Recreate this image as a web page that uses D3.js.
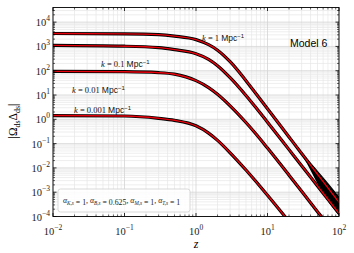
<!DOCTYPE html>
<html><head><meta charset="utf-8">
<script src="https://cdn.jsdelivr.net/npm/d3@7"></script>
<style>body{margin:0;background:#fff}svg{display:block}</style>
</head><body>
<svg id="c" width="354" height="253"></svg>
<script>
// ---- data ----
const zs = [0.01, 0.1, 0.3, 0.5, 1, 1.5, 2, 3, 5, 7, 10, 20, 30, 50, 70, 100];
const k1 = [3400, 3300, 3050, 2650, 1900, 1180, 700, 235, 39, 10.7, 2.7, 0.1875, 0.0394, 0.0055, 0.00151, 0.000381];
const k01 = [1100, 1020, 890, 735, 500, 295, 161, 51.8, 9.57, 2.85, 0.76, 0.0565, 0.01236, 0.001816, 0.000514, 0.000135];
const k001 = [94, 91, 83, 72, 39, 20.3, 10.8, 3.6, 0.74, 0.237, 0.0655, 0.00503, 0.0011, 0.000158, 0.000044, 0.00001];
const k0001 = [1.43, 1.37, 1.1, 0.91, 0.54, 0.271, 0.136, 0.042, 0.0082, 0.00261, 0.00075, 0.000062, 0.000014, 0.000002, 0.0000006, 0.0000002];
const seriesNames = ["k1", "k01", "k001", "k0001"];
const bandZ = [30, 35, 50, 70, 100];
const bandUpper = [0.0394, 0.023, 0.007, 0.0022, 0.0006];
const bandLower = [0.0394, 0.019, 0.0026, 0.00048, 0.00012];
const xTicks = [0.01, 0.1, 1, 10, 100];
const xTickExp = ["-2", "-1", "0", "1", "2"];
const yTicks = [1e-4, 1e-3, 1e-2, 1e-1, 1, 10, 100, 1000, 10000];
const yTickExp = ["-4", "-3", "-2", "-1", "0", "1", "2", "3", "4"];
const labels = [
  {val: "1", x: 202, y: 41},
  {val: "0.1", x: 101, y: 67},
  {val: "0.01", x: 72, y: 93},
  {val: "0.001", x: 74, y: 113}
];

const svg = d3.select("#c");
const L = 53, R = 339, T = 7.5, B = 216.5;
const x = d3.scaleLog().domain([0.01, 100]).range([L, R]);
const y = d3.scaleLog().domain([1e-4, 4e4]).range([B, T]);

svg.append("defs").append("clipPath").attr("id", "clip")
  .append("rect").attr("x", L).attr("y", T).attr("width", R - L).attr("height", B - T);

// grid
const xMinor = [], yMinor = [];
for (let e = -2; e < 2; e++) for (let m = 2; m <= 9; m++) xMinor.push(m * Math.pow(10, e));
for (let e = -4; e <= 4; e++) for (let m = 2; m <= 9; m++) { const v = m * Math.pow(10, e); if (v < 4e4) yMinor.push(v); }
const g = svg.append("g");
g.selectAll(".xm").data(xMinor).enter().append("line")
  .attr("x1", d => x(d)).attr("x2", d => x(d)).attr("y1", T).attr("y2", B)
  .attr("stroke", "#e6e6e6").attr("stroke-width", 0.7);
g.selectAll(".ym").data(yMinor).enter().append("line")
  .attr("y1", d => y(d)).attr("y2", d => y(d)).attr("x1", L).attr("x2", R)
  .attr("stroke", "#e6e6e6").attr("stroke-width", 0.7);
g.selectAll(".xM").data(xTicks).enter().append("line")
  .attr("x1", d => x(d)).attr("x2", d => x(d)).attr("y1", T).attr("y2", B)
  .attr("stroke", "#d4d4d4").attr("stroke-width", 0.8);
g.selectAll(".yM").data(yTicks).enter().append("line")
  .attr("y1", d => y(d)).attr("y2", d => y(d)).attr("x1", L).attr("x2", R)
  .attr("stroke", "#d4d4d4").attr("stroke-width", 0.8);

// curves
const plot = svg.append("g").attr("clip-path", "url(#clip)");
const all = {k1, k01, k001, k0001};
const line = d3.line().x(d => x(d[0])).y(d => y(d[1])).curve(d3.curveMonotoneX);
seriesNames.forEach(n => {
  const pts = zs.map((z, i) => [z, all[n][i]]);
  plot.append("path").attr("d", line(pts)).attr("fill", "none")
    .attr("stroke", "#000").attr("stroke-width", 3.2);
});
const area = d3.area().x(d => x(d[0])).y0(d => y(d[2])).y1(d => y(d[1])).curve(d3.curveMonotoneX);
plot.append("path").attr("d", area(bandZ.map((z, i) => [z, bandUpper[i], bandLower[i]])))
  .attr("fill", "#000").attr("stroke", "#000").attr("stroke-width", 1.5);
seriesNames.forEach(n => {
  const pts = zs.map((z, i) => [z, all[n][i]]);
  plot.append("path").attr("d", line(pts)).attr("fill", "none")
    .attr("stroke", "#e8000b").attr("stroke-width", 1.4);
});

// frame & ticks
const ax = svg.append("g").attr("stroke", "#000");
ax.append("rect").attr("x", L).attr("y", T).attr("width", R - L).attr("height", B - T)
  .attr("fill", "none").attr("stroke-width", 0.9);
xTicks.forEach(d => {
  ax.append("line").attr("x1", x(d)).attr("x2", x(d)).attr("y1", B).attr("y2", B - 3.5).attr("stroke-width", 0.8);
  ax.append("line").attr("x1", x(d)).attr("x2", x(d)).attr("y1", T).attr("y2", T + 3.5).attr("stroke-width", 0.8);
});
xMinor.forEach(d => {
  ax.append("line").attr("x1", x(d)).attr("x2", x(d)).attr("y1", B).attr("y2", B - 2).attr("stroke-width", 0.6);
  ax.append("line").attr("x1", x(d)).attr("x2", x(d)).attr("y1", T).attr("y2", T + 2).attr("stroke-width", 0.6);
});
yTicks.forEach(d => {
  ax.append("line").attr("y1", y(d)).attr("y2", y(d)).attr("x1", L).attr("x2", L + 3.5).attr("stroke-width", 0.8);
  ax.append("line").attr("y1", y(d)).attr("y2", y(d)).attr("x1", R).attr("x2", R - 3.5).attr("stroke-width", 0.8);
});
yMinor.forEach(d => {
  ax.append("line").attr("y1", y(d)).attr("y2", y(d)).attr("x1", L).attr("x2", L + 2).attr("stroke-width", 0.6);
  ax.append("line").attr("y1", y(d)).attr("y2", y(d)).attr("x1", R).attr("x2", R - 2).attr("stroke-width", 0.6);
});

// tick labels
const serif = "'Liberation Serif', 'DejaVu Serif', serif";
xTicks.forEach((d, i) => {
  const t = svg.append("text").attr("x", x(d)).attr("y", 235).attr("text-anchor", "middle")
    .attr("font-family", serif).attr("font-size", 10.5).attr("fill", "#222");
  t.append("tspan").text("10");
  t.append("tspan").attr("font-size", 7.5).attr("dy", -5).text(xTickExp[i].replace("-", "\u2212"));
});
yTicks.forEach((d, i) => {
  const t = svg.append("text").attr("x", 50).attr("y", y(d) + 4).attr("text-anchor", "end")
    .attr("font-family", serif).attr("font-size", 10.5).attr("fill", "#222");
  t.append("tspan").text("10");
  t.append("tspan").attr("font-size", 7.5).attr("dy", -5).text(yTickExp[i].replace("-", "\u2212"));
});

// axis labels
svg.append("text").attr("x", 196).attr("y", 248).attr("text-anchor", "middle")
  .attr("font-family", serif).attr("font-style", "italic").attr("font-size", 12).text("z");
const yl = svg.append("text").attr("transform", "translate(17,121) rotate(-90)").attr("text-anchor", "middle")
  .attr("font-family", serif).attr("font-size", 11.5);
yl.append("tspan").text("|\u03A9");
yl.append("tspan").attr("font-size", 8).attr("dy", 2.5).text("ds");
yl.append("tspan").attr("dy", -2.5).text("\u0394");
yl.append("tspan").attr("font-size", 8).attr("dy", 2.5).text("ds");
yl.append("tspan").attr("dy", -2.5).text("|");

// k labels
const sans = "'Liberation Sans', Arial, sans-serif";
labels.forEach(l => {
  const t = svg.append("text").attr("x", l.x).attr("y", l.y).attr("font-size", 8.5).attr("fill", "#111");
  t.append("tspan").attr("font-family", serif).attr("font-style", "italic").text("k");
  t.append("tspan").attr("font-family", serif).text(" = " + l.val + " ");
  t.append("tspan").attr("font-family", sans).text("Mpc");
  t.append("tspan").attr("font-family", sans).attr("font-size", 6).attr("dy", -3.5).text("\u22121");
});
svg.append("text").attr("x", 290).attr("y", 47).attr("font-family", sans).attr("font-size", 10.5).text("Model 6");

// legend-style parameter box
svg.append("rect").attr("x", 58).attr("y", 189).attr("width", 132).attr("height", 23).attr("rx", 2.5)
  .attr("fill", "#fff").attr("fill-opacity", 0.85).attr("stroke", "#cfcfcf").attr("stroke-width", 0.8);
const params = [["K,s", "1"], ["B,s", "0.625"], ["M,s", "1"], ["T,s", "1"]];
const pt = svg.append("text").attr("x", 63).attr("y", 203).attr("font-family", serif).attr("font-size", 7.8).attr("fill", "#222");
params.forEach((p, i) => {
  pt.append("tspan").attr("font-style", "italic").attr("dy", i === 0 ? 0 : -1.5).text((i ? ", " : "") + "\u03B1");
  pt.append("tspan").attr("font-size", 5.2).attr("dy", 1.5).attr("font-style", "italic").text(p[0]);
  pt.append("tspan").text(" = " + p[1]);
});
</script>
</body></html>
